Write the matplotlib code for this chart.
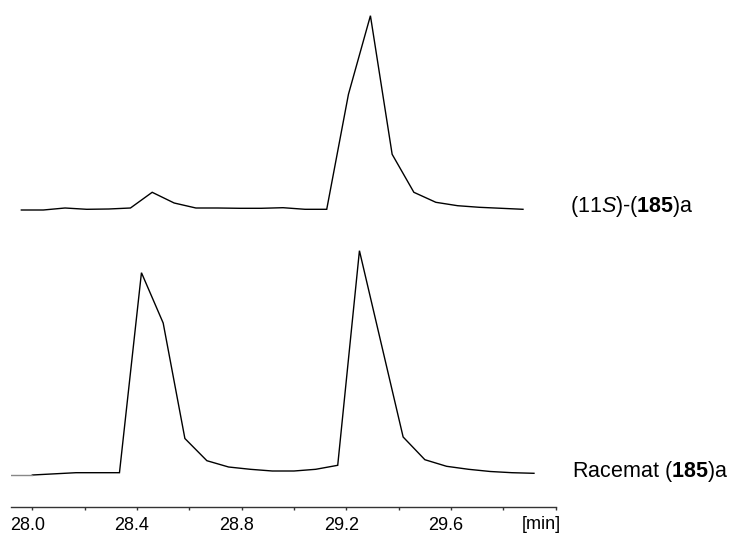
import matplotlib
matplotlib.use("Agg")
import matplotlib.pyplot as plt
import matplotlib.transforms as mtransforms

plt.rcParams["font.family"] = ["Liberation Sans", "DejaVu Sans"]
plt.rcParams["mathtext.fontset"] = "custom"
plt.rcParams["mathtext.rm"] = "Liberation Sans"
plt.rcParams["mathtext.it"] = "Liberation Sans:italic"
plt.rcParams["mathtext.bf"] = "Liberation Sans:bold"

# Retention times [min] and detector response (arbitrary units)
time_enantiomer = [27.958, 28.042, 28.125, 28.208, 28.292, 28.375, 28.458,
                   28.542, 28.625, 28.708, 28.792, 28.875, 28.958, 29.042,
                   29.125, 29.208, 29.292, 29.375, 29.458, 29.542, 29.625,
                   29.708, 29.792, 29.875]
signal_enantiomer = [0.0, 0.0, 2.0, 0.7, 1.0, 2.0, 17.7, 7.0, 2.0, 2.0,
                     1.7, 1.7, 2.3, 0.7, 0.7, 115.7, 194.3, 55.7, 17.7,
                     7.7, 4.3, 2.7, 1.7, 0.7]

time_racemate = [28.0, 28.167, 28.333, 28.417, 28.5, 28.583, 28.667, 28.75,
                 28.833, 28.917, 29.0, 29.083, 29.167, 29.25, 29.417, 29.5,
                 29.583, 29.667, 29.75, 29.833, 29.917]
signal_racemate = [0.0, 2.3, 2.3, 202.3, 152.0, 36.5, 14.3, 8.0, 5.7, 4.0,
                   4.0, 5.7, 9.7, 224.3, 38.0, 15.3, 8.7, 5.7, 3.5, 2.3, 1.7]

tick_values = [28.0, 28.4, 28.8, 29.2, 29.6]
tick_labels = ["28.0", "28.4", "28.8", "29.2", "29.6"]
minor_ticks = [28.2, 28.6, 29.0, 29.4, 29.8, 30.0]

label_enantiomer = r"(11$\mathit{S}$)-($\mathbf{185}$)a"
label_racemate = r"Racemat ($\mathbf{185}$)a"

trace_offset = 265.0

W, H = 733, 533
fig = plt.figure(figsize=(W / 100, H / 100), dpi=100)
ax = fig.add_axes([11 / W, (H - 506.7) / H, (555.7 - 11) / W, 506.7 / H])
ax.set_xlim(27.9185, 30.0)
ax.set_ylim(-31.7, 475)

ax.plot(time_enantiomer, [v + trace_offset for v in signal_enantiomer],
        color="black", lw=1.0, solid_joinstyle="miter")
ax.plot(time_racemate, signal_racemate, color="black", lw=1.0,
        solid_joinstyle="miter")
ax.plot([27.9185, time_racemate[0]], [signal_racemate[0]] * 2,
        color="#888888", lw=1.0)

for s in ["top", "left", "right"]:
    ax.spines[s].set_visible(False)
ax.spines["bottom"].set_color("#333333")
ax.spines["bottom"].set_linewidth(1.0)
ax.set_yticks([])
ax.set_xticks(tick_values + minor_ticks)
ax.set_xticklabels(tick_labels + [""] * len(minor_ticks))
ax.tick_params(axis="x", direction="out", length=2.5, width=1.0,
               color="#333333", pad=5.0, labelsize=13)
shift = mtransforms.ScaledTranslation(-5 / 100, 0, fig.dpi_scale_trans)
for lab in ax.get_xticklabels():
    lab.set_transform(lab.get_transform() + shift)

unit_shift = mtransforms.ScaledTranslation(-14 / 100, -9.5 / 100,
                                           fig.dpi_scale_trans)
ax.text(30.0, -31.7, "[min]", transform=ax.transData + unit_shift,
        ha="center", va="top", fontsize=13)

fig.text(570 / W, (H - 212) / H, label_enantiomer, fontsize=15.5,
         ha="left", va="baseline")
fig.text(571.7 / W, (H - 477) / H, label_racemate, fontsize=15.5,
         ha="left", va="baseline")

fig.savefig("out.png", dpi=100)
